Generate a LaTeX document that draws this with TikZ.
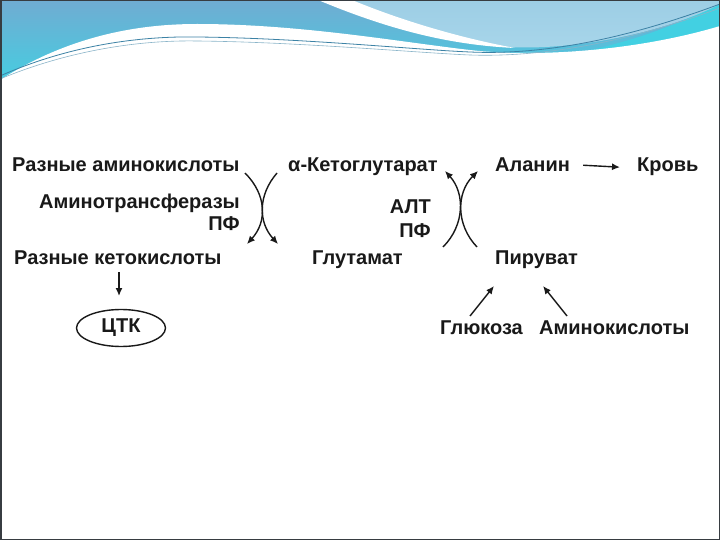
\documentclass[tikz,border=0pt]{standalone}
\usepackage{fontspec}
\setmainfont{Liberation Sans}
\usetikzlibrary{arrows.meta,shapes.geometric}
\definecolor{ink}{RGB}{25,25,25}
\definecolor{topblue}{RGB}{112,172,210}
\definecolor{cyanband}{RGB}{66,208,226}
\definecolor{lightblue}{RGB}{168,214,234}
\definecolor{lineteal}{RGB}{60,130,165}
\definecolor{frame}{RGB}{55,60,65}
\tikzset{
  txt/.style={font=\fontsize{20}{22}\selectfont\bfseries, text=ink, inner sep=0pt},
  arr/.style={draw=ink, line width=1.4pt, -{Latex[length=8pt,width=7pt]}},
}
\begin{document}
\begin{tikzpicture}[x=1pt,y=-1pt]
\useasboundingbox (0,0) rectangle (720,540);
% background
\fill[white] (0,0) rectangle (720,540);
% header
\shade[top color=topblue, bottom color=cyanband] (0,0) rectangle (720,90);
\fill[cyanband] (470,70) .. controls (560,60) and (660,40) .. (720,0) -- (720,60) -- cycle;
\shade[top color=lightblue!80!topblue, bottom color=lightblue] (338,0) .. controls (420,40) and (490,52) .. (560,46) .. controls (630,40) and (690,20) .. (720,4) -- (720,0) -- cycle;
\fill[white] (318,0) .. controls (390,30) and (450,45) .. (515,48) .. controls (460,38) and (400,20) .. (352,0) -- cycle;
\fill[white] (0,80) .. controls (70,35) and (140,24) .. (197,24) .. controls (300,24) and (400,42) .. (470,50) .. controls (540,58) and (640,50) .. (720,26) -- (720,100) -- (0,100) -- cycle;
\draw[lineteal, line width=0.8pt] (0,76) .. controls (70,45) and (140,36) .. (197,37) .. controls (300,38) and (420,50) .. (470,52) .. controls (560,56) and (650,30) .. (720,4);
\draw[lineteal!60, line width=0.6pt] (0,79) .. controls (70,50) and (140,40) .. (197,41) .. controls (300,42) and (420,53) .. (470,55) .. controls (560,58) and (650,34) .. (720,8);
% frame
\draw[frame, line width=1.5pt] (0.75,0.75) rectangle (719.25,539.25);

% texts
\node[txt, anchor=base west] (ra) at (12,172) {Разные аминокислоты};
\node[txt, anchor=base west] (akg) at (288,172) {α-Кетоглутарат};
\node[txt, anchor=base west] (ala) at (495,172) {Аланин};
\node[txt, anchor=base west] (krov) at (637,172) {Кровь};
\node[txt, anchor=base east] (amt) at (240,208) {Аминотрансферазы};
\node[txt, anchor=base east] (pf1) at (240,230) {ПФ};
\node[txt, anchor=base west] (rk) at (14,264) {Разные кетокислоты};
\node[txt, anchor=base west] (glu) at (312,264) {Глутамат};
\node[txt, anchor=base east] (alt) at (431,214) {АЛТ};
\node[txt, anchor=base east] (pf2) at (431,237) {ПФ};
\node[txt, anchor=base west] (pir) at (495,264) {Пируват};
\node[txt, anchor=base west] (glc) at (440,334) {Глюкоза};
\node[txt, anchor=base west] (amk) at (539,334) {Аминокислоты};
\node[txt, draw=ink, line width=1.4pt, ellipse, minimum width=89pt, minimum height=37pt] (ctk) at (121,328) {ЦТК};

% connector end points
\coordinate (a1) at (245,173);
\coordinate (a2) at (247,244);
\coordinate (b1) at (277,173);
\coordinate (b2) at (278,244);
\coordinate (c1) at (443,247);
\coordinate (c2) at (445,171);
\coordinate (d1) at (477,247);
\coordinate (d2) at (478,171);
\coordinate (k1) at (119,272);
\coordinate (k2) at (119,296);
\coordinate (g1) at (470,316);
\coordinate (g2) at (494,286);
\coordinate (m1) at (567,316);
\coordinate (m2) at (543,286);

% left transamination
\draw[arr] (a1) .. controls (267,195) and (267,222) .. (a2);
\draw[arr] (b1) .. controls (258,195) and (258,222) .. (b2);
% right transamination
\draw[arr] (c1) .. controls (465,225) and (465,193) .. (c2);
\draw[arr] (d1) .. controls (456,225) and (456,193) .. (d2);
% straight arrows
\draw[arr] ([xshift=13pt]ala.east) -- ([xshift=-17pt]krov.west);
\draw[arr] (k1) -- (k2);
\draw[arr] (g1) -- (g2);
\draw[arr] (m1) -- (m2);
\end{tikzpicture}
\end{document}
